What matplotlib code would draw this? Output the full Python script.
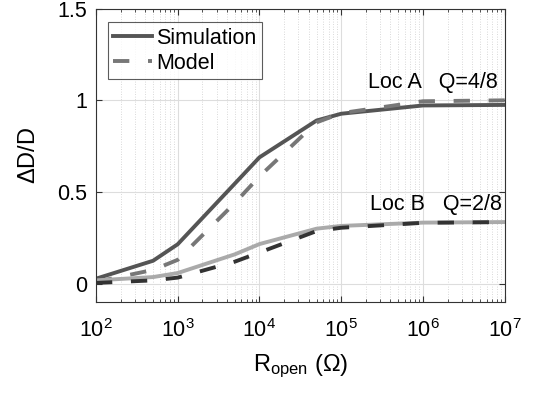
import matplotlib
matplotlib.use("Agg")
import matplotlib.pyplot as plt
from matplotlib.ticker import LogLocator, NullFormatter, FixedLocator

plt.rcParams['font.family'] = ['Liberation Sans', 'DejaVu Sans']
plt.rcParams['mathtext.fontset'] = 'custom'
plt.rcParams['mathtext.rm'] = 'Liberation Sans'
plt.rcParams['mathtext.it'] = 'Liberation Sans'

# open resistance (ohm)
r_open = [1e2, 5e2, 1e3, 5e3, 1e4, 5e4, 1e5, 1e6, 1e7]

# Loc A, Q=4/8
sim_a = [0.027, 0.125, 0.215, 0.546, 0.689, 0.89, 0.927, 0.972, 0.975]
model_a = [0.01, 0.075, 0.13, 0.44, 0.585, 0.88, 0.93, 0.995, 1.0]

# Loc B, Q=2/8
sim_b = [0.018, 0.036, 0.058, 0.16, 0.216, 0.30, 0.315, 0.333, 0.336]
model_b = [0.004, 0.018, 0.033, 0.12, 0.17, 0.287, 0.305, 0.332, 0.336]

fig = plt.figure(figsize=(5.33, 3.94), dpi=100)
ax = fig.add_axes([0.180, 0.2335, 0.767, 0.7445])

lw = 2.8
dash = (0, (4.2, 4.8))
ax.plot(r_open, sim_a, color='#555555', lw=lw, label='Simulation')
ax.plot(r_open, model_a, color='#777777', lw=lw, ls=dash, label='Model')
ax.plot(r_open, sim_b, color='#aaaaaa', lw=lw)
ax.plot(r_open, model_b, color='#333333', lw=lw, ls=dash)

ax.set_xscale('log')
ax.set_xlim(1e2, 1e7)
ax.set_ylim(-0.1, 1.5)
ax.yaxis.set_major_locator(FixedLocator([0, 0.5, 1, 1.5]))
ax.set_yticklabels(['0', '0.5', '1', '1.5'])
ax.xaxis.set_major_locator(LogLocator(base=10, numticks=10))
ax.xaxis.set_minor_locator(LogLocator(base=10, subs=range(2, 10), numticks=100))
ax.xaxis.set_minor_formatter(NullFormatter())

ax.grid(True, which='major', color='#dddddd', lw=0.8)
ax.grid(True, which='minor', axis='x', color='#cccccc', lw=0.6, ls=(0, (1, 2)))
ax.set_axisbelow(True)

ax.tick_params(which='both', direction='in', top=True, right=True, labelsize=15.5,
               color='#333333')
ax.tick_params(axis='x', pad=12)
ax.tick_params(axis='y', pad=6)
ax.tick_params(which='major', length=4)
ax.tick_params(which='minor', length=2.5)
for s in ax.spines.values():
    s.set_color('#333333')
    s.set_linewidth(0.8)

ax.text(2.1e5, 1.04, 'Loc A   Q=4/8', fontsize=15.5, ha='left', va='bottom')
ax.text(2.25e5, 0.375, 'Loc B   Q=2/8', fontsize=15.5, ha='left', va='bottom')

ax.set_xlabel(r'R$_{\mathrm{open}}$ ($\Omega$)', fontsize=17, labelpad=8)
ax.set_ylabel(r'$\Delta$D/D', fontsize=17, labelpad=13)

leg = ax.legend(loc='upper left', fontsize=15.5, handlelength=1.8, handletextpad=0.2,
                borderpad=0.25, labelspacing=0.2, fancybox=False,
                bbox_to_anchor=(0.029, 0.954), borderaxespad=0)
leg.get_frame().set_edgecolor('#333333')
leg.get_frame().set_linewidth(0.8)

fig.savefig('out.png', dpi=100)
